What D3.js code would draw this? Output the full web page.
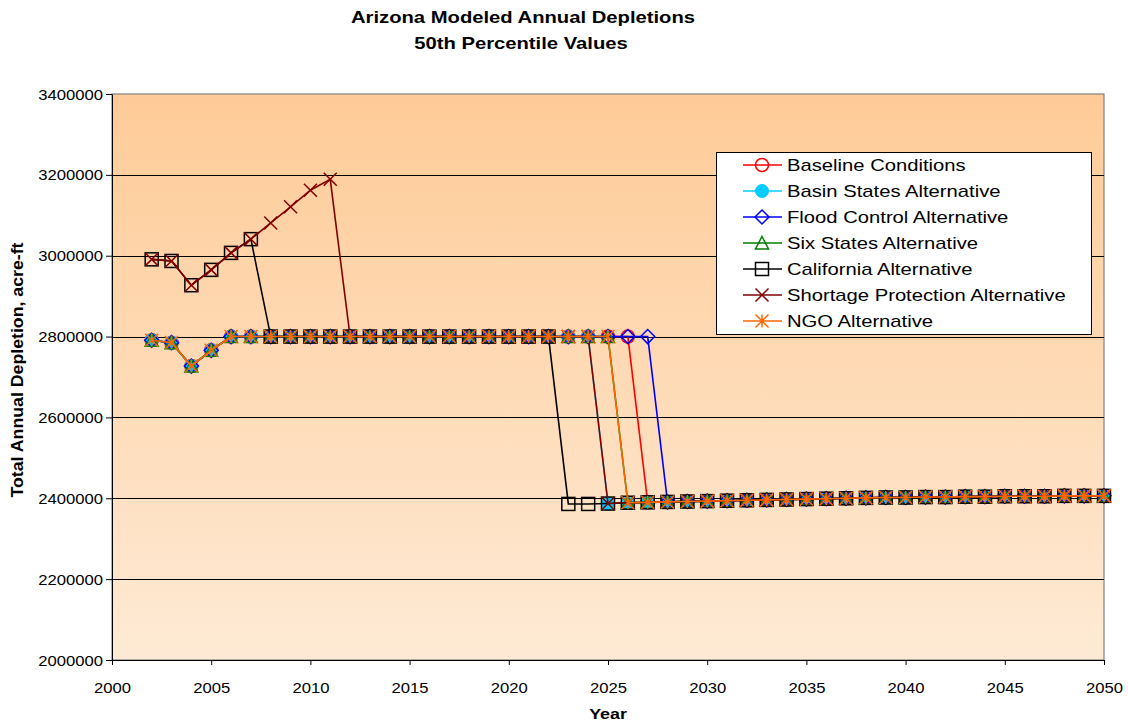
<!DOCTYPE html>
<html>
<head>
<meta charset="utf-8">
<script src="https://cdn.jsdelivr.net/npm/d3@7"></script>
<style>
  html, body { margin: 0; padding: 0; background: #ffffff; }
  svg { display: block; font-family: "Liberation Sans", Arial, sans-serif; }
</style>
</head>
<body>
<svg id="chart" width="1128" height="725"></svg>
<script>
// ---------------- DATA ----------------
const years = d3.range(2002, 2051);
// Typical early years (2002-2005) before reaching the 2.8 MAF plateau
const earlyMain = [2791000, 2785000, 2727000, 2766000];
// California / Shortage Protection early years (2002-2007)
const earlyHigh = [2991000, 2987000, 2927000, 2965000, 3007000, 3041000];
// Shortage Protection continued rise (2008-2011)
const shortageRise = [3081000, 3121000, 3162000, 3189000];
const plateau = 2800000;
// Lower level after the drop (2023-2050)
const lowTail = [2386000, 2386000, 2387000, 2389000, 2390000, 2391000, 2392000,
  2393000, 2394000, 2395000, 2396000, 2397000, 2398000, 2399000, 2400000,
  2401000, 2402000, 2402000, 2403000, 2403000, 2404000, 2404000, 2405000,
  2405000, 2405000, 2406000, 2406000, 2406000];

const seriesNames = ["Baseline Conditions", "Basin States Alternative", "Flood Control Alternative",
  "Six States Alternative", "California Alternative", "Shortage Protection Alternative", "NGO Alternative"];
// first year at the lower level for each series
const dropYears = [2027, 2025, 2028, 2026, 2023, 2025, 2026];
const seriesColors = ["#ff0000", "#00ccff", "#0000ff", "#008000", "#000000", "#800000", "#ff6600"];
const seriesMarkers = ["circle", "dot", "diamond", "triangle", "square", "x", "star"];

const xTicks = [2000, 2005, 2010, 2015, 2020, 2025, 2030, 2035, 2040, 2045, 2050];
const yTicks = [2000000, 2200000, 2400000, 2600000, 2800000, 3000000, 3200000, 3400000];

function buildSeries(i) {
  return years.map(yr => {
    let v;
    if (yr >= dropYears[i]) v = lowTail[yr - 2023];
    else if (i === 4 && yr <= 2007) v = earlyHigh[yr - 2002];
    else if (i === 5 && yr <= 2007) v = earlyHigh[yr - 2002];
    else if (i === 5 && yr <= 2011) v = shortageRise[yr - 2008];
    else if (yr <= 2005) v = earlyMain[yr - 2002];
    else v = plateau;
    return { year: yr, value: v };
  });
}
const series = seriesNames.map((n, i) => ({ name: n, color: seriesColors[i], marker: seriesMarkers[i], data: buildSeries(i) }));

// ---------------- LAYOUT ----------------
const svg = d3.select("#chart");
const L = 112, R = 1104, T = 94, B = 660;
const SX = 1.19; // horizontal stretch of text seen in reference
const x = d3.scaleLinear().domain([2000, 2050]).range([L, R]);
const y = d3.scaleLinear().domain([2000000, 3400000]).range([B, T]);

const defs = svg.append("defs");
const grad = defs.append("linearGradient").attr("id", "bg").attr("x1", 0).attr("y1", 0).attr("x2", 0).attr("y2", 1);
grad.append("stop").attr("offset", "0%").attr("stop-color", "#fecb97");
grad.append("stop").attr("offset", "100%").attr("stop-color", "#feead5");

svg.append("rect").attr("x", L).attr("y", T).attr("width", R - L).attr("height", B - T)
  .attr("fill", "url(#bg)").attr("stroke", "#808080").attr("stroke-width", 1.2);

// gridlines
svg.append("g").selectAll("line").data(yTicks.filter(d => d > 2000000 && d < 3400000)).join("line")
  .attr("x1", L).attr("x2", R).attr("y1", d => Math.round(y(d)) + 0.5).attr("y2", d => Math.round(y(d)) + 0.5)
  .attr("stroke", "#000").attr("stroke-width", 1);

// axes
const yAxis = d3.axisLeft(y).tickValues(yTicks).tickFormat(d3.format("d")).tickSizeInner(6).tickSizeOuter(0).tickPadding(3);
const gy = svg.append("g").attr("transform", `translate(${L},0)`).call(yAxis);
gy.selectAll(".tick text").attr("font-size", 14).attr("fill", "#000")
  .style("font-family", "Liberation Sans, Arial, sans-serif")
  .attr("x", null).attr("dy", null)
  .attr("transform", `translate(-9,5) scale(${SX},1)`);
gy.select(".domain").attr("stroke", "#000");

const xAxis = d3.axisBottom(x).tickValues(xTicks).tickFormat(d3.format("d")).tickSizeInner(5).tickSizeOuter(0).tickPadding(10);
const gx = svg.append("g").attr("transform", `translate(0,${B})`).call(xAxis);
gx.selectAll(".tick text").attr("font-size", 14).attr("fill", "#000")
  .style("font-family", "Liberation Sans, Arial, sans-serif")
  .attr("y", null).attr("dy", null)
  .attr("transform", `translate(0,33) scale(${SX},1)`);
gx.select(".domain").attr("stroke", "#000");

// titles
function stretchedText(px, py, size, weight, str) {
  return svg.append("text").attr("transform", `translate(${px},${py}) scale(${SX},1)`)
    .attr("text-anchor", "middle").attr("font-size", size).attr("font-weight", weight).text(str);
}
stretchedText(523, 23, 17, "bold", "Arizona Modeled Annual Depletions");
stretchedText(521, 49, 17, "bold", "50th Percentile Values");
stretchedText(608, 719, 15, "bold", "Year");
svg.append("text").attr("transform", "translate(23,370) rotate(-90) scale(1,1.15)").attr("text-anchor", "middle")
  .attr("font-size", 15).attr("font-weight", "bold").attr("textLength", 255).attr("lengthAdjust", "spacingAndGlyphs")
  .text("Total Annual Depletion, acre-ft");

// markers
function drawMarker(g, type, color) {
  const s = 6.5;
  switch (type) {
    case "circle":
      g.append("circle").attr("r", s).attr("fill", "none").attr("stroke", color).attr("stroke-width", 1.5); break;
    case "dot":
      g.append("circle").attr("r", s).attr("fill", color).attr("stroke", color).attr("stroke-width", 1); break;
    case "diamond":
      g.append("path").attr("d", `M0,${-s - 0.5}L${s + 0.5},0L0,${s + 0.5}L${-s - 0.5},0Z`).attr("fill", "none").attr("stroke", color).attr("stroke-width", 1.5); break;
    case "triangle":
      g.append("path").attr("d", `M0,${-s}L${s},${s - 0.5}L${-s},${s - 0.5}Z`).attr("fill", "none").attr("stroke", color).attr("stroke-width", 1.5); break;
    case "square":
      g.append("rect").attr("x", -s).attr("y", -s).attr("width", 2 * s).attr("height", 2 * s).attr("fill", "none").attr("stroke", color).attr("stroke-width", 1.5); break;
    case "x":
      g.append("path").attr("d", `M${-s},${-s}L${s},${s}M${-s},${s}L${s},${-s}`).attr("stroke", color).attr("stroke-width", 1.5); break;
    case "star":
      g.append("path").attr("d", `M0,${-s}L0,${s}M${-s},${-s}L${s},${s}M${-s},${s}L${s},${-s}`).attr("stroke", color).attr("stroke-width", 1.5); break;
  }
}

const line = d3.line().x(d => x(d.year)).y(d => y(d.value));
series.forEach(sr => {
  const g = svg.append("g");
  g.append("path").datum(sr.data).attr("d", line).attr("fill", "none").attr("stroke", sr.color).attr("stroke-width", 1.6);
  g.selectAll("g.m").data(sr.data).join("g").attr("class", "m")
    .attr("transform", d => `translate(${x(d.year)},${y(d.value)})`)
    .each(function () { drawMarker(d3.select(this), sr.marker, sr.color); });
});

// legend
const lg = svg.append("g");
lg.append("rect").attr("x", 716.5).attr("y", 152.5).attr("width", 375).attr("height", 182)
  .attr("fill", "#fff").attr("stroke", "#000").attr("stroke-width", 1);
series.forEach((sr, i) => {
  const cy = 165 + i * 26;
  lg.append("line").attr("x1", 743).attr("x2", 782).attr("y1", cy).attr("y2", cy).attr("stroke", sr.color).attr("stroke-width", 1.6);
  const mg = lg.append("g").attr("transform", `translate(762,${cy})`);
  drawMarker(mg, sr.marker, sr.color);
  lg.append("text").attr("transform", `translate(787,${cy + 6}) scale(${SX},1)`).attr("font-size", 17).text(sr.name);
});
</script>
</body>
</html>
